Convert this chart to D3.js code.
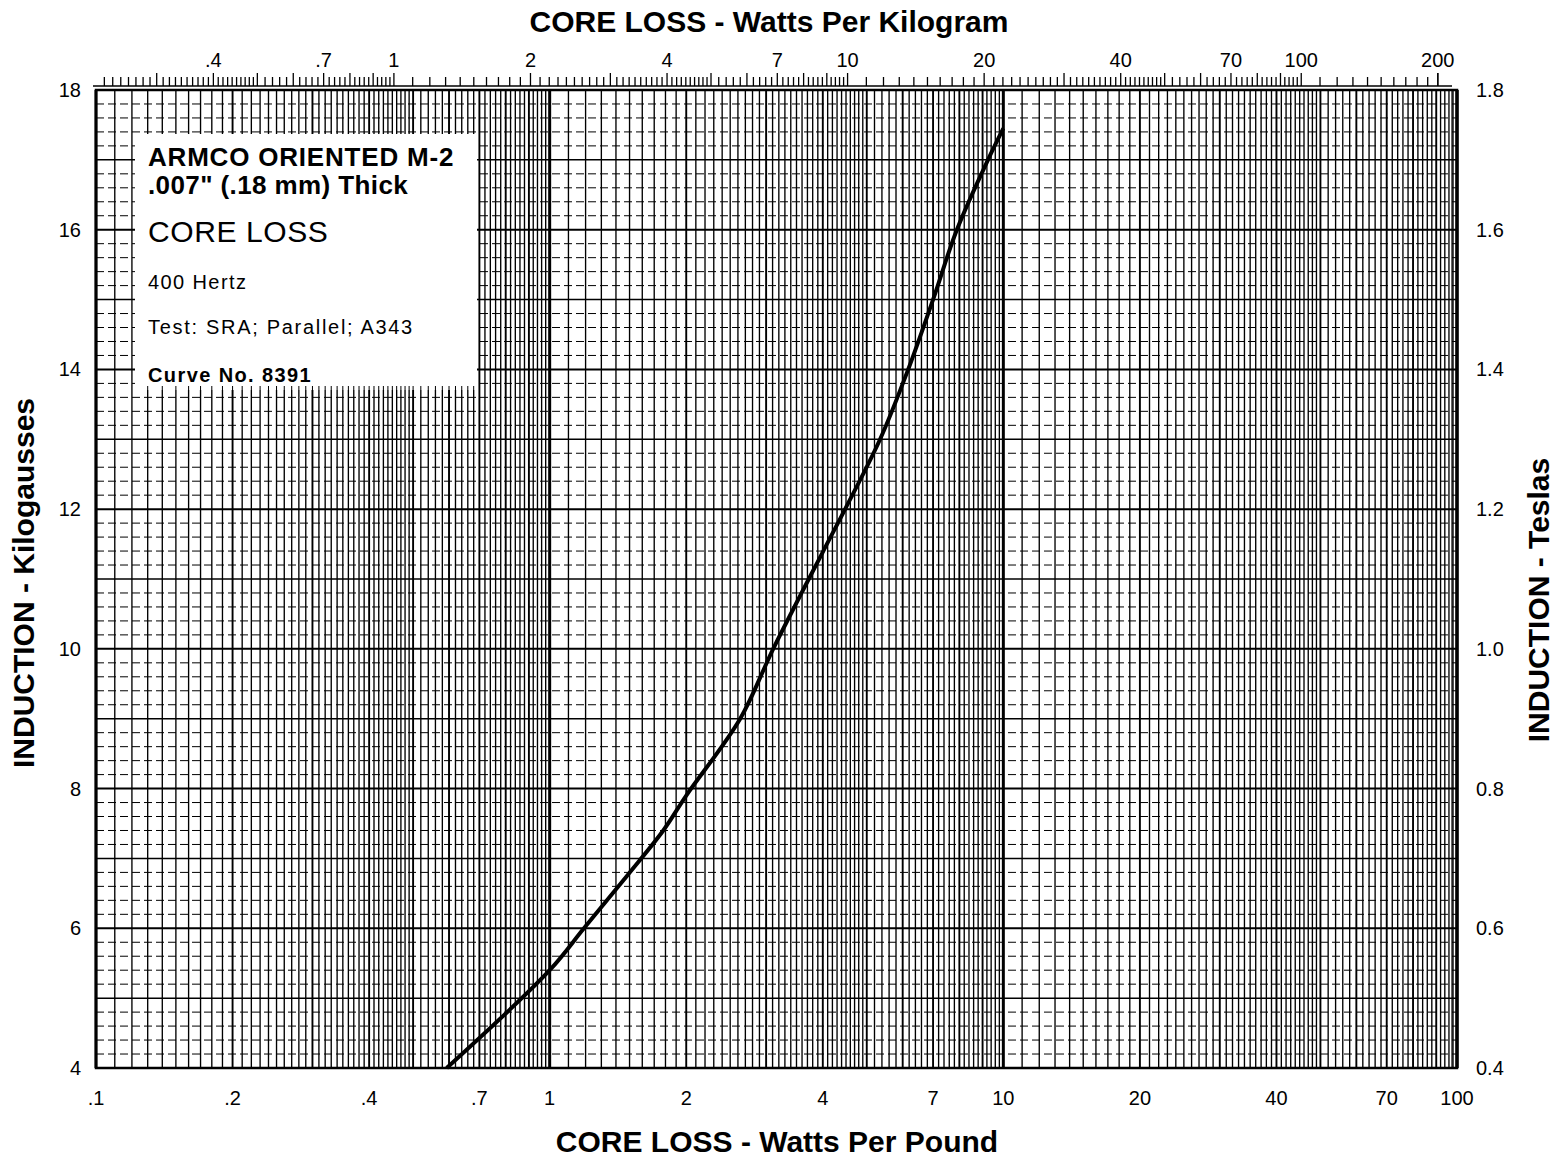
<!DOCTYPE html>
<html>
<head>
<meta charset="utf-8">
<script src="https://cdn.jsdelivr.net/npm/d3@7"></script>
<style>
  body { margin: 0; background: #fff; }
  svg { display: block; }
  text { font-family: "Liberation Sans", Arial, Helvetica, sans-serif; fill: #000; }
</style>
</head>
<body>
<div id="chart"></div>
<script>
// Curve: core loss (W/lb) vs induction (kG)
const coreLossWPerLb = [0.593, 1.0, 1.19, 1.48, 1.78, 2.0, 2.63, 3.11, 4.01, 4.48, 5.35, 6.17, 7.0, 7.9, 9.25, 10.0];
const inductionKG    = [4.0,   5.4, 6.0,  6.75, 7.4,  7.9, 9.0,  10.0, 11.4, 12.0, 13.0, 14.0, 15.0, 16.0, 17.0, 17.45];

// Tick labels
const bottomTicks = [0.1, 0.2, 0.4, 0.7, 1, 2, 4, 7, 10, 20, 40, 70, 100];
const bottomLabels = [".1", ".2", ".4", ".7", "1", "2", "4", "7", "10", "20", "40", "70", "100"];
const topTicks = [0.4, 0.7, 1, 2, 4, 7, 10, 20, 40, 70, 100, 200];
const topLabels = [".4", ".7", "1", "2", "4", "7", "10", "20", "40", "70", "100", "200"];
const leftTicks = [4, 6, 8, 10, 12, 14, 16, 18];
const rightTicks = [0.4, 0.6, 0.8, 1.0, 1.2, 1.4, 1.6, 1.8];

const legendLines = [
  { text: "ARMCO ORIENTED M-2", size: 26, weight: "bold", y: 166, ls: 0.8 },
  { text: ".007\" (.18 mm) Thick", size: 26, weight: "bold", y: 194, ls: 0.4 },
  { text: "CORE LOSS", size: 30, weight: "normal", y: 242, ls: 0.6 },
  { text: "400 Hertz", size: 20, weight: "normal", y: 289, ls: 1.4 },
  { text: "Test: SRA; Parallel; A343", size: 20, weight: "normal", y: 334, ls: 1.7 },
  { text: "Curve No. 8391", size: 20, weight: "bold", y: 382, ls: 1.4 }
];

const LB_PER_KG = 2.20462;
const width = 1554, height = 1164;
const plot = { left: 96, right: 1457, top: 90, bottom: 1068 };

const svg = d3.select("#chart").append("svg")
  .attr("width", width)
  .attr("height", height);

const x = d3.scaleLog().domain([0.1, 100]).range([plot.left, plot.right]);
const xTop = d3.scaleLog().domain([0.1 * LB_PER_KG, 100 * LB_PER_KG]).range([plot.left, plot.right]);
const y = d3.scaleLinear().domain([4, 18]).range([plot.bottom, plot.top]);
const yT = d3.scaleLinear().domain([0.4, 1.8]).range([plot.bottom, plot.top]);

// log-paper rulings: 1-2 by .1, 2-5 by .1, 5-10 by .2 in every decade
function logRulings(lo, hi) {
  const out = [];
  for (let d = Math.pow(10, Math.floor(Math.log10(lo))); d < hi * 1.0001; d *= 10) {
    for (let m = 10; m < 100; m += (m < 50 ? 1 : 2)) {
      const v = d * m / 10;
      if (v >= lo * 0.9999 && v <= hi * 1.0001) out.push({ v, m: m / 10 });
    }
  }
  out.push({ v: hi, m: 1 });
  return out;
}
const isWhole = m => Math.abs(m - Math.round(m)) < 0.01;

const grid = svg.append("g");

// horizontal dashed rulings every 0.2 kG
const hMinor = d3.range(4, 18.001, 0.2).filter(v => Math.abs(v - Math.round(v)) > 0.01);
grid.selectAll(".hminor").data(hMinor).enter().append("line")
  .attr("x1", plot.left).attr("x2", plot.right)
  .attr("y1", d => y(d)).attr("y2", d => y(d))
  .attr("stroke", "#000").attr("stroke-width", 1)
  .attr("stroke-dasharray", "8,4");

// vertical rulings
const vLines = logRulings(0.1, 100);
grid.selectAll(".vline").data(vLines).enter().append("line")
  .attr("x1", d => x(d.v)).attr("x2", d => x(d.v))
  .attr("y1", plot.top).attr("y2", plot.bottom)
  .attr("stroke", "#000")
  .attr("stroke-width", d => d.m === 1 ? 3 : (isWhole(d.m) ? 1.9 : 1.35));

// horizontal solid rulings every 1 kG
grid.selectAll(".hmajor").data(d3.range(4, 18.001, 1)).enter().append("line")
  .attr("x1", plot.left).attr("x2", plot.right)
  .attr("y1", d => y(d)).attr("y2", d => y(d))
  .attr("stroke", "#000")
  .attr("stroke-width", d => d % 2 === 0 ? 2 : 1.5);

// frame
svg.append("rect")
  .attr("x", plot.left).attr("y", plot.top)
  .attr("width", plot.right - plot.left).attr("height", plot.bottom - plot.top)
  .attr("fill", "none").attr("stroke", "#000").attr("stroke-width", 2.5);
svg.append("line")
  .attr("x1", plot.right - 5).attr("x2", plot.right - 5)
  .attr("y1", plot.top).attr("y2", plot.bottom)
  .attr("stroke", "#000").attr("stroke-width", 1.2);

// top W/kg tick strip
const stripY = plot.top - 4;
svg.append("line")
  .attr("x1", plot.left - 3).attr("x2", plot.right - 5)
  .attr("y1", stripY).attr("y2", stripY)
  .attr("stroke", "#000").attr("stroke-width", 1.5);
const topRulings = logRulings(0.2, 200).filter(d => d.v >= 0.1 * LB_PER_KG && d.v <= 100 * LB_PER_KG);
svg.selectAll(".ttick").data(topRulings).enter().append("line")
  .attr("x1", d => xTop(d.v)).attr("x2", d => xTop(d.v))
  .attr("y1", stripY)
  .attr("y2", d => stripY - (isWhole(d.m) ? 13 : 9))
  .attr("stroke", "#000").attr("stroke-width", 1.3);

// data curve
const pts = coreLossWPerLb.map((w, i) => [w, inductionKG[i]]);
svg.append("path")
  .datum(pts)
  .attr("d", d3.line().x(d => x(d[0])).y(d => y(d[1])).curve(d3.curveCatmullRom.alpha(0.5)))
  .attr("fill", "none").attr("stroke", "#000").attr("stroke-width", 4)
  .attr("stroke-linecap", "butt");

// legend box
const box = { x: 135, y: 134, w: 342, h: 256 };
svg.append("rect")
  .attr("x", box.x).attr("y", box.y).attr("width", box.w).attr("height", box.h)
  .attr("fill", "#fff");
const boxTicks = vLines.filter(d => x(d.v) > box.x + 4 && x(d.v) < box.x + box.w - 2);
svg.selectAll(".bt").data(boxTicks).enter().append("line")
  .attr("x1", d => x(d.v)).attr("x2", d => x(d.v))
  .attr("y1", box.y + box.h - 4).attr("y2", box.y + box.h)
  .attr("stroke", "#000").attr("stroke-width", 1);
svg.selectAll(".legend").data(legendLines).enter().append("text")
  .attr("x", 148).attr("y", d => d.y)
  .attr("font-size", d => d.size)
  .attr("font-weight", d => d.weight)
  .attr("letter-spacing", d => d.ls || 0)
  .text(d => d.text);

// tick labels
svg.selectAll(".bl").data(bottomTicks).enter().append("text")
  .attr("x", d => x(d)).attr("y", 1105)
  .attr("text-anchor", "middle").attr("font-size", 20)
  .text((d, i) => bottomLabels[i]);
svg.selectAll(".tl").data(topTicks).enter().append("text")
  .attr("x", d => xTop(d)).attr("y", 67)
  .attr("text-anchor", "middle").attr("font-size", 20)
  .text((d, i) => topLabels[i]);
svg.selectAll(".ll").data(leftTicks).enter().append("text")
  .attr("x", 81).attr("y", d => y(d) + 7)
  .attr("text-anchor", "end").attr("font-size", 20)
  .text(d => d);
svg.selectAll(".rl").data(rightTicks).enter().append("text")
  .attr("x", 1476).attr("y", d => yT(d) + 7)
  .attr("font-size", 20)
  .text(d => d.toFixed(1));

// axis titles
svg.append("text").attr("x", 769).attr("y", 32)
  .attr("text-anchor", "middle").attr("font-size", 30).attr("font-weight", "bold")
  .text("CORE LOSS - Watts Per Kilogram");
svg.append("text").attr("x", 777).attr("y", 1152)
  .attr("text-anchor", "middle").attr("font-size", 30).attr("font-weight", "bold")
  .text("CORE LOSS - Watts Per Pound");
svg.append("text")
  .attr("transform", "translate(34,583) rotate(-90)")
  .attr("text-anchor", "middle").attr("font-size", 30).attr("font-weight", "bold")
  .text("INDUCTION - Kilogausses");
svg.append("text")
  .attr("transform", "translate(1549,600) rotate(-90)")
  .attr("text-anchor", "middle").attr("font-size", 30).attr("font-weight", "bold")
  .text("INDUCTION - Teslas");
</script>
</body>
</html>
